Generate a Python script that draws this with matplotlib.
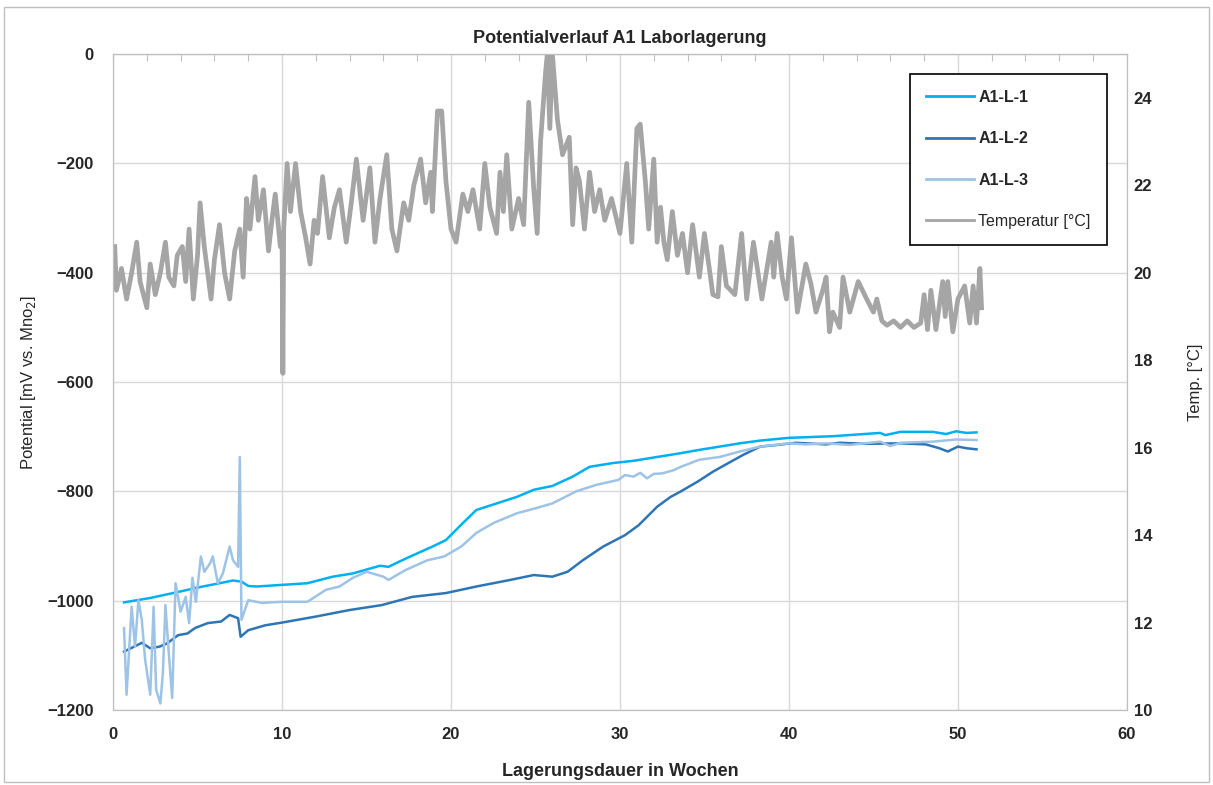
import numpy as np
import matplotlib.pyplot as plt
from matplotlib.patches import Rectangle
from matplotlib.ticker import MultipleLocator

plt.rcParams['font.family'] = ['Liberation Sans', 'DejaVu Sans']

# A1-L-1
w1 = [0.65, 2.2, 3.55, 5.15, 6.3, 7.1, 7.6, 8.0, 8.5, 10.0, 11.5, 13.0, 14.2, 15.8, 16.3, 16.9,
      17.6, 18.9, 19.7, 20.7, 21.5, 22.7, 23.9, 24.9, 26.0, 27.2, 28.2, 29.6, 30.8, 32.2, 33.6,
      34.7, 35.9, 37.1, 38.3, 40.0, 42.6, 45.4, 45.7, 46.6, 48.5, 49.3, 49.9, 50.5, 51.1]
p1 = [-1003, -995, -986, -975, -968, -963, -965, -973, -974, -971, -968, -956, -950, -936, -938, -929,
      -919, -901, -889, -858, -834, -822, -810, -797, -790, -773, -755, -748, -744, -737, -730,
      -724, -718, -712, -707, -702, -699, -693, -697, -691, -691, -695, -690, -693, -692]

# A1-L-2
w2 = [0.65, 1.25, 1.7, 2.2, 2.75, 3.2, 3.85, 4.4, 4.85, 5.6, 6.4, 6.9, 7.4, 7.55, 8.0, 9.0, 10.0,
      12.0, 14.0, 15.9, 17.7, 19.7, 21.5, 23.5, 24.9, 26.0, 26.9, 27.8, 29.0, 30.3, 31.1, 32.2,
      33.0, 33.6, 34.6, 35.5, 35.9, 37.3, 38.3, 39.3, 40.4, 42.2, 43.0, 44.6, 46.6, 48.1, 48.9,
      49.4, 50.0, 50.5, 51.1]
p2 = [-1093, -1084, -1077, -1087, -1084, -1078, -1063, -1060, -1050, -1041, -1038, -1026, -1032,
      -1066, -1054, -1045, -1040, -1029, -1017, -1008, -993, -986, -974, -962, -953, -956, -947,
      -926, -901, -880, -862, -828, -810, -800, -782, -764, -757, -733, -718, -715, -711, -714,
      -711, -713, -712, -714, -721, -727, -718, -721, -723]

# A1-L-3
w3 = [0.65, 0.8, 1.1, 1.3, 1.5, 1.7, 1.9, 2.2, 2.4, 2.55, 2.8, 2.95, 3.1, 3.3, 3.5, 3.7, 4.0, 4.3,
      4.5, 4.7, 4.9, 5.2, 5.4, 5.75, 5.9, 6.2, 6.5, 6.9, 7.1, 7.4, 7.5, 7.6, 8.0, 8.8, 10.0, 11.5,
      12.6, 13.4, 14.2, 15.0, 16.0, 16.3, 17.3, 18.6, 19.6, 20.6, 21.5, 22.5, 23.9, 25.1, 26.0,
      27.4, 28.6, 29.9, 30.3, 30.8, 31.2, 31.6, 32.0, 32.5, 33.2, 33.6, 34.7, 35.9, 37.1, 38.3,
      40.0, 41.0, 42.2, 43.6, 45.4, 46.0, 46.6, 48.5, 49.9, 51.1]
p3 = [-1050, -1172, -1011, -1084, -999, -1035, -1108, -1172, -1011, -1163, -1188, -1132, -1008,
      -1096, -1178, -968, -1020, -993, -1041, -958, -1002, -919, -947, -931, -919, -968, -950,
      -901, -926, -938, -737, -1035, -999, -1004, -1002, -1002, -980, -974, -958, -947, -956,
      -962, -944, -926, -919, -901, -876, -858, -840, -830, -822, -800, -788, -779, -770, -773,
      -766, -776, -768, -767, -761, -755, -742, -737, -727, -718, -712, -714, -712, -715, -709,
      -717, -711, -709, -705, -706]

# Temperatur
wt = [0.1, 0.2, 0.5, 0.8, 1.1, 1.4, 1.6, 2.0, 2.2, 2.5, 2.8, 3.1, 3.3, 3.6, 3.8, 4.1, 4.3, 4.5,
      4.75, 5.0, 5.15, 5.4, 5.8, 6.0, 6.3, 6.6, 6.9, 7.2, 7.5, 7.7, 7.9, 8.1, 8.4, 8.6, 8.9, 9.2,
      9.4, 9.6, 9.9, 10.0, 10.05, 10.1, 10.3, 10.5, 10.8, 11.1, 11.4, 11.66, 11.9, 12.1, 12.4,
      12.8, 13.1, 13.4, 13.8, 14.1, 14.4, 14.8, 15.2, 15.5, 15.8, 16.2, 16.5, 16.8, 17.2, 17.5,
      17.8, 18.2, 18.5, 18.8, 18.9, 19.2, 19.45, 19.7, 20.0, 20.3, 20.7, 21.0, 21.3, 21.7, 22.0,
      22.3, 22.7, 22.9, 23.1, 23.3, 23.6, 24.0, 24.3, 24.6, 24.9, 25.1, 25.3, 25.6, 25.7, 25.85,
      26.0, 26.3, 26.6, 27.0, 27.2, 27.4, 27.6, 27.9, 28.2, 28.5, 28.8, 29.1, 29.5, 30.0, 30.4,
      30.7, 31.0, 31.2, 31.5, 31.7, 32.0, 32.2, 32.4, 32.6, 32.8, 33.1, 33.4, 33.7, 34.0, 34.3,
      34.7, 35.0, 35.5, 35.8, 36.0, 36.3, 36.8, 37.2, 37.5, 37.9, 38.4, 38.95, 39.1, 39.3, 39.6,
      39.85, 40.15, 40.5, 41.0, 41.3, 41.6, 42.0, 42.2, 42.4, 42.6, 43.0, 43.2, 43.6, 44.1, 44.6,
      45.0, 45.2, 45.5, 45.8, 46.2, 46.6, 47.0, 47.4, 47.8, 48.0, 48.2, 48.4, 48.7, 49.1, 49.25,
      49.4, 49.7, 50.0, 50.4, 50.7, 50.9, 51.1, 51.3, 51.4]
temp = [20.6, 19.6, 20.1, 19.4, 20.0, 20.7, 19.8, 19.2, 20.2, 19.5, 20.0, 20.7, 19.9, 19.7, 20.4,
        20.6, 19.8, 21.0, 19.4, 20.4, 21.6, 20.6, 19.4, 20.3, 21.1, 20.0, 19.4, 20.5, 21.0, 19.9,
        21.7, 21.0, 22.2, 21.2, 21.9, 20.5, 21.2, 21.8, 20.6, 20.9, 17.7, 21.0, 22.5, 21.4, 22.5,
        21.4, 20.8, 20.2, 21.2, 20.9, 22.2, 20.8, 21.5, 21.9, 20.7, 21.6, 22.6, 21.2, 22.4, 20.7,
        21.7, 22.7, 21.0, 20.5, 21.6, 21.2, 22.0, 22.6, 21.6, 22.3, 21.4, 23.7, 23.7, 22.1, 21.0,
        20.7, 21.8, 21.4, 21.9, 21.0, 22.5, 21.5, 20.9, 22.3, 21.4, 22.7, 21.0, 21.7, 21.1, 23.9,
        21.9, 20.9, 23.0, 24.6, 25.0, 23.3, 25.0, 23.5, 22.7, 23.1, 21.1, 22.4, 22.1, 21.0, 22.3,
        21.4, 21.9, 21.2, 21.7, 20.9, 22.5, 20.7, 23.3, 23.4, 22.1, 21.0, 22.6, 20.7, 21.5, 20.7,
        20.3, 21.4, 20.4, 20.9, 20.0, 21.1, 19.9, 20.9, 19.5, 19.45, 20.6, 19.7, 19.5, 20.9, 19.4,
        20.7, 19.4, 20.7, 19.9, 20.9, 19.9, 19.4, 20.8, 19.1, 20.2, 19.75, 19.1, 19.6, 19.9, 18.65,
        19.1, 18.75, 19.9, 19.1, 19.8, 19.4, 19.1, 19.4, 18.9, 18.8, 18.9, 18.75, 18.9, 18.75,
        18.85, 19.5, 18.7, 19.6, 18.7, 19.8, 19.0, 19.8, 18.65, 19.4, 19.7, 18.85, 19.7, 18.85,
        20.1, 19.2]

fig = plt.figure(figsize=(12.13, 7.85), dpi=100)
fig.patches.append(Rectangle((0.003, 0.004), 0.994, 0.987, transform=fig.transFigure,
                             fill=False, edgecolor='#BFBFBF', linewidth=1))
ax = fig.add_axes([0.0932, 0.0955, 0.8358, 0.8355])
ax2 = ax.twinx()

l1, = ax.plot(w1, p1, color='#00B0F0', lw=1.8, label='A1-L-1')
l2, = ax.plot(w2, p2, color='#2E75B6', lw=1.8, label='A1-L-2')
l3, = ax.plot(w3, p3, color='#9DC3E6', lw=1.8, label='A1-L-3')
lt, = ax2.plot(wt, temp, color='#A5A5A5', lw=3.4, label='Temperatur [°C]')

ax.set_xlim(0, 60)
ax.set_ylim(-1200, 0)
ax2.set_ylim(10, 25)
ax.set_xticks(range(0, 61, 10))
ax.set_yticks(range(-1200, 1, 200))
ax2.set_yticks(range(10, 25, 2))
ax.grid(True, color='#D9D9D9', lw=1)
ax.set_axisbelow(True)

for a in (ax, ax2):
    for s in a.spines.values():
        s.set_color('#BFBFBF')
ax.tick_params(axis='both', length=0, labelsize=12)
ax.tick_params(axis='y', pad=14)
ax.tick_params(axis='x', pad=12)
ax2.tick_params(axis='y', length=0, labelsize=12, pad=5)
for lab in ax.get_xticklabels() + ax.get_yticklabels() + ax2.get_yticklabels():
    lab.set_fontweight('bold')
    lab.set_color('#262626')

top = ax.secondary_xaxis('top')
top.xaxis.set_major_locator(MultipleLocator(2))
top.tick_params(direction='in', length=5, color='#BFBFBF', labeltop=False)
top.spines['top'].set_color('#BFBFBF')

ax.set_title('Potentialverlauf A1 Laborlagerung', fontsize=13, fontweight='bold',
             color='#262626', y=1.004)
ax.set_xlabel('Lagerungsdauer in Wochen', fontsize=13, fontweight='bold', color='#262626')
ax.xaxis.set_label_coords(0.5, -0.080)
ax.set_ylabel('Potential [mV vs. Mno$_2$]', fontsize=12, color='#262626')
ax.yaxis.set_label_coords(-0.074, 0.5)
ax2.set_ylabel('Temp. [°C]', fontsize=12, color='#262626')
ax2.yaxis.set_label_coords(1.060, 0.5)

leg = ax2.legend(handles=[l1, l2, l3, lt], loc='upper left', bbox_to_anchor=(0.778, 0.982),
                 frameon=True, fancybox=False, edgecolor='black', framealpha=1,
                 labelspacing=1.65, handlelength=3.0, handletextpad=0.3,
                 borderpad=1.0, fontsize=11.5)
leg.get_frame().set_linewidth(1.2)
for h in leg.legend_handles:
    h.set_linewidth(2)
for i, t in enumerate(leg.get_texts()):
    t.set_color('#262626')
    if i < 3:
        t.set_fontweight('bold')

fig.savefig('out.png', dpi=100)
